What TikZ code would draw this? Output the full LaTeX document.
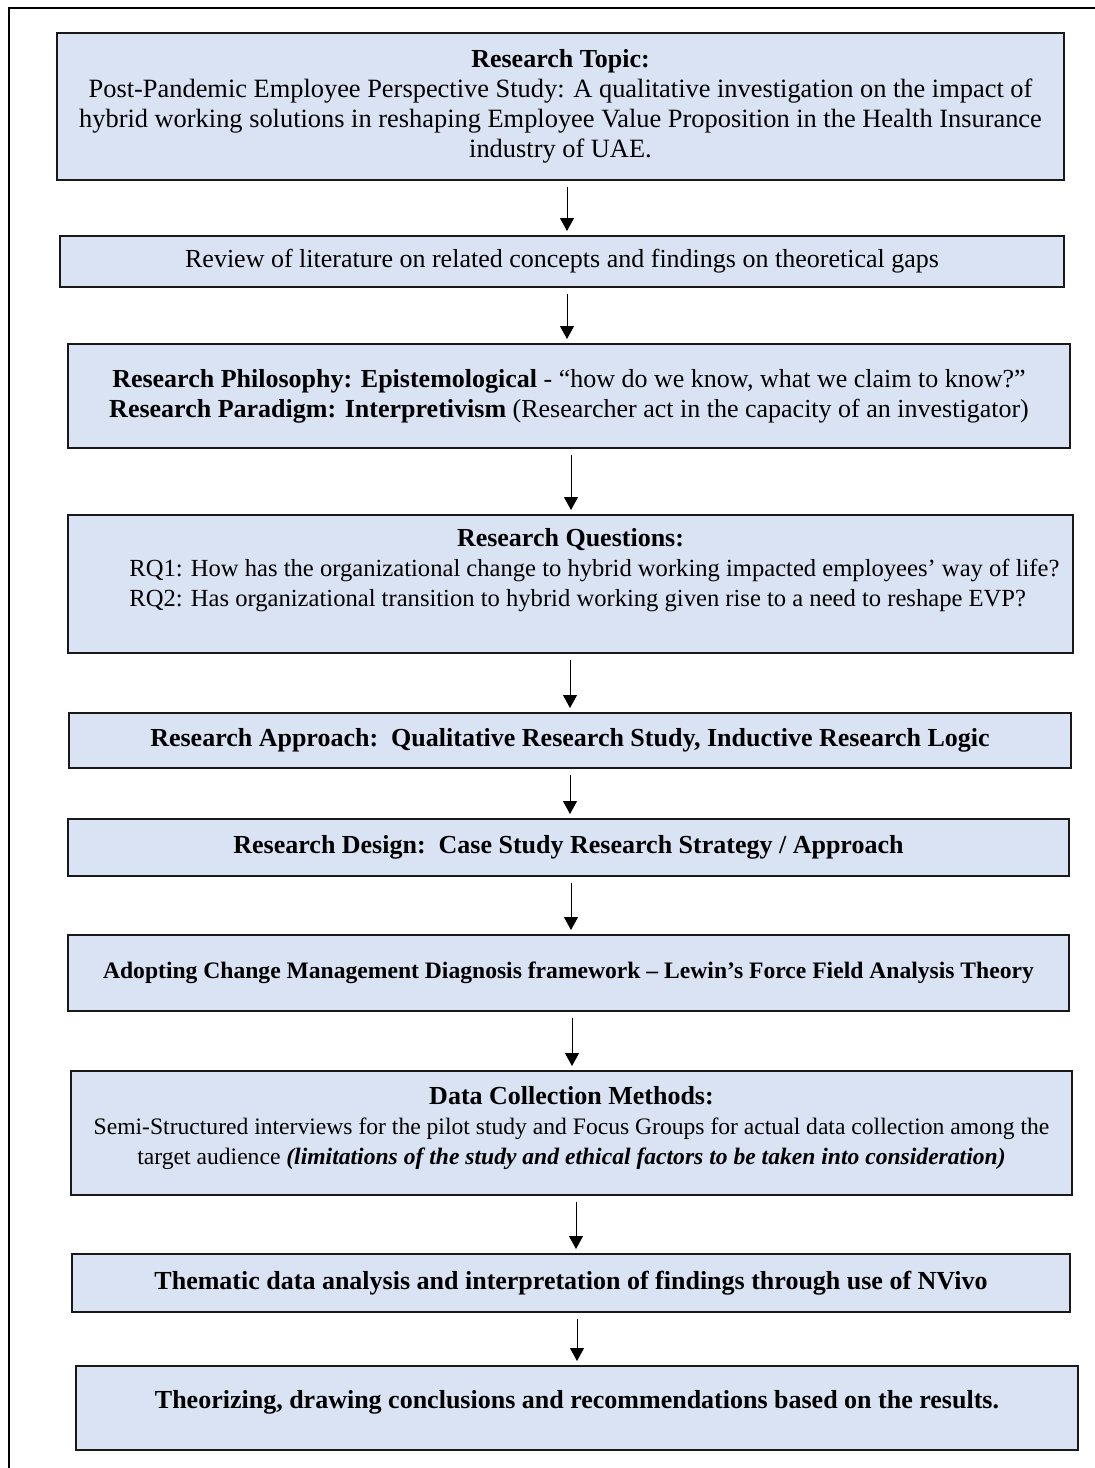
\documentclass[tikz,border=0pt]{standalone}
\usepackage{fontspec}
\setmainfont{Liberation Serif}
\usetikzlibrary{arrows.meta}
\definecolor{boxfill}{HTML}{DAE3F3}
\begin{document}
\begin{tikzpicture}[x=0.5pt, y=-0.5pt,
  stepbox/.style={draw=black!90, line width=1pt, fill=boxfill, align=center,
    inner sep=0pt, font=\fontsize{13}{15}\selectfont},
  arr/.style={line width=0.5pt, -{Triangle[width=7pt,length=6.5pt]},
    shorten <=3pt, shorten >=2pt}]
\useasboundingbox (0,0) rectangle (1094,1468);
% outer frame
\draw[line width=1pt] (9,1500) -- (9,8) -- (1120,8);

\node[stepbox, minimum width=503.5pt, minimum height=73.5pt] (t1) at (560.5,106.5)
  {\textbf{Research Topic:}\\
   {\fontsize{13.2}{15}\selectfont Post-Pandemic Employee Perspective Study: A qualitative investigation on the impact of}\\
   {\fontsize{13.2}{15}\selectfont hybrid working solutions in reshaping Employee Value Proposition in the Health Insurance}\\
   {\fontsize{13.2}{15}\selectfont industry of UAE.}};
\node[stepbox, minimum width=502pt, minimum height=25.5pt] (t2) at (562,261.5)
  {Review of literature on related concepts and findings on theoretical gaps};
\node[stepbox, minimum width=501pt, minimum height=52pt] (t3) at (569,396)
  {\textbf{Research Philosophy: Epistemological} - “how do we know, what we claim to know?”\\
   \textbf{Research Paradigm: Interpretivism} (Researcher act in the capacity of an investigator)};
\node[stepbox, minimum width=502.5pt, minimum height=69pt] (t4) at (570.5,584) {};
\node[font=\fontsize{13}{15}\selectfont, inner sep=0pt] (t4title) at (570.5,540)
  {\textbf{Research Questions:}};
\node[align=left, anchor=west, font=\fontsize{12.3}{15}\selectfont, inner sep=0pt] (t4txt) at (129,585.5)
  {RQ1: How has the organizational change to hybrid working impacted employees’ way of life?\\
   RQ2: Has organizational transition to hybrid working given rise to a need to reshape EVP?};
\node[stepbox, minimum width=501pt, minimum height=27.5pt] (t5) at (570,740.5)
  {\textbf{Research Approach:\ \ Qualitative Research Study, Inductive Research Logic}};
\node[stepbox, minimum width=500.5pt, minimum height=28.5pt] (t6) at (568.5,847.5)
  {\textbf{Research Design:\ \ Case Study Research Strategy / Approach}};
\node[stepbox, minimum width=500.5pt, minimum height=38pt,
  font=\fontsize{11.8}{14}\selectfont] (t7) at (568.5,973)
  {\textbf{Adopting Change Management Diagnosis framework – Lewin’s Force Field Analysis Theory}};
\node[stepbox, minimum width=500.5pt, minimum height=62pt] (t8) at (571.5,1133) {};
\node[align=center, font=\fontsize{13}{15}\selectfont, inner sep=0pt] (t8txt) at (571.5,1128)
  {\textbf{Data Collection Methods:}\\
   {\fontsize{11.8}{15}\selectfont Semi-Structured interviews for the pilot study and Focus Groups for actual data collection among the}\\
   {\fontsize{11.8}{15}\selectfont target audience \textbf{\textit{(limitations of the study and ethical factors to be taken into consideration)}}}};
\node[stepbox, minimum width=499pt, minimum height=29pt] (t9) at (571,1283)
  {\textbf{Thematic data analysis and interpretation of findings through use of NVivo}};
\node[stepbox, minimum width=501pt, minimum height=42pt] (t10) at (577,1408) {};
\node[font=\fontsize{13}{15}\selectfont, inner sep=0pt] (t10txt) at (577,1402)
  {\textbf{Theorizing, drawing conclusions and recommendations based on the results.}};

% arrow columns
\coordinate (a1) at (567,0);
\coordinate (a2) at (567,0);
\coordinate (a3) at (571,0);
\coordinate (a4) at (570,0);
\coordinate (a5) at (570,0);
\coordinate (a6) at (571,0);
\coordinate (a7) at (572,0);
\coordinate (a8) at (576,0);
\coordinate (a9) at (577,0);

\draw[arr] (t1.south -| a1) -- (t2.north -| a1);
\draw[arr] (t2.south -| a2) -- (t3.north -| a2);
\draw[arr] (t3.south -| a3) -- (t4.north -| a3);
\draw[arr] (t4.south -| a4) -- (t5.north -| a4);
\draw[arr] (t5.south -| a5) -- (t6.north -| a5);
\draw[arr] (t6.south -| a6) -- (t7.north -| a6);
\draw[arr] (t7.south -| a7) -- (t8.north -| a7);
\draw[arr] (t8.south -| a8) -- (t9.north -| a8);
\draw[arr] (t9.south -| a9) -- (t10.north -| a9);
\end{tikzpicture}
\end{document}
